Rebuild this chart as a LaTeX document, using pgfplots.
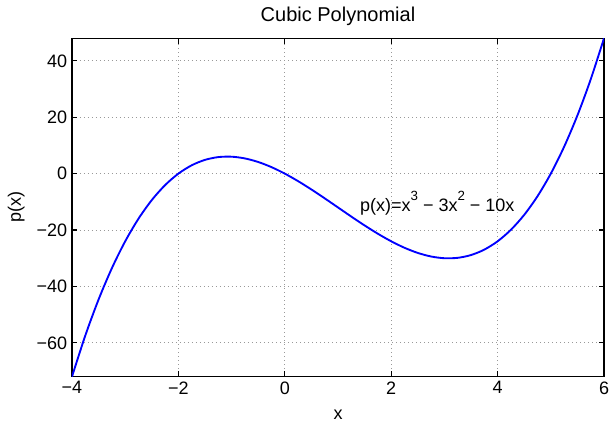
\documentclass[border=0pt]{standalone}
\usepackage{fontspec}
\setmainfont{Liberation Sans}
\usepackage{pgfplots}
\pgfplotsset{compat=1.18}
\newcommand{\lblfont}{\fontsize{13.5}{16}\selectfont}
\newcommand{\sups}[1]{\raisebox{0.62em}{\fontsize{10}{12}\selectfont #1}}
\begin{document}
\begin{tikzpicture}
\begin{axis}[
  scale only axis,
  width=399pt, height=253.8pt,
  xmin=-4, xmax=6, ymin=-72, ymax=48,
  xtick={-4,-2,0,2,4,6},
  xticklabels={−4,−2,0,2,4,6},
  ytick={-60,-40,-20,0,20,40},
  yticklabels={−60,−40,−20,0,20,40},
  tick align=inside,
  tick pos=both,
  major tick length=4pt,
  grid=major,
  major grid style={gray!80, line width=0.6pt, dash pattern=on 0.6pt off 2.4pt},
  axis line style={black, line width=0.9pt},
  tick style={black, line width=0.9pt},
  every tick label/.append style={font=\lblfont},
  yticklabel style={inner sep=3.5pt},
  xticklabel style={inner sep=3.5pt},
  xlabel={x}, ylabel={p(x)},
  label style={font=\lblfont},
  xlabel style={at={(axis description cs:0.5,-0.1123)}, anchor=center},
  ylabel style={at={(axis description cs:-0.105,0.5)}, anchor=center},
  clip=true,
]
\addplot[blue, line width=1.4pt, smooth] coordinates {
(-4,-72) (-3.75,-57.421875) (-3.5,-44.625) (-3.25,-33.515625) (-3,-24)
(-2.75,-15.984375) (-2.5,-9.375) (-2.25,-4.078125) (-2,0)
(-1.75,2.953125) (-1.5,4.875) (-1.25,5.859375) (-1,6)
(-0.75,5.390625) (-0.5,4.125) (-0.25,2.296875) (0,0)
(0.25,-2.671875) (0.5,-5.625) (0.75,-8.765625) (1,-12)
(1.25,-15.234375) (1.5,-18.375) (1.75,-21.328125) (2,-24)
(2.25,-26.296875) (2.5,-28.125) (2.75,-29.390625) (3,-30)
(3.25,-29.859375) (3.5,-28.875) (3.75,-26.953125) (4,-24)
(4.25,-19.921875) (4.5,-14.625) (4.75,-8.015625) (5,0)
(5.25,9.515625) (5.5,20.625) (5.75,33.421875) (6,48)
};
\node[anchor=base west, inner sep=0pt, font=\lblfont] at (axis cs:1.41,-13.5)
  {p(x)=x\sups{3} − 3x\sups{2} − 10x};
\end{axis}
% title above the plot area
\node[font=\fontsize{15}{18}\selectfont, inner sep=0pt]
  at ([yshift=16.5pt]current axis.north) {Cubic Polynomial};
% fixed page frame around the plot area
\pgfresetboundingbox
\path (current axis.south west) ++(-54pt,-35.5pt) rectangle ++(457.5pt,318pt);
\end{tikzpicture}
\end{document}
